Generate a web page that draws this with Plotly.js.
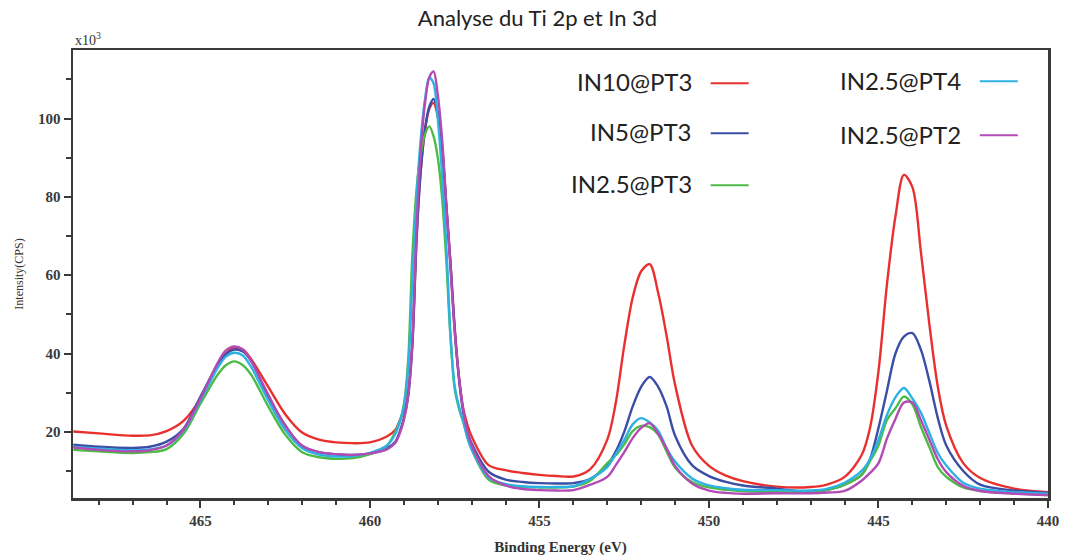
<!DOCTYPE html>
<html>
<head>
<meta charset="utf-8">
<script src="https://cdn.plot.ly/plotly-3.0.1.min.js"></script>
<style>
  html, body { margin: 0; padding: 0; background: #ffffff; }
  #chart { width: 1075px; height: 558px; }
</style>
</head>
<body>
<div id="chart"></div>
<script>
// Binding energy grid (eV)
const energy = [468.75, 468, 467, 466.5, 466, 465.5, 465, 464.5, 464.25, 464, 463.75, 463.5, 463, 462.5, 462, 461.5, 461, 460.5, 460, 459.5,
  459.25, 459.125, 459, 458.875, 458.75, 458.625, 458.5, 458.375, 458.25, 458.125, 458, 457.875, 457.75, 457.625, 457.5, 457.375, 457.25, 457.125, 457,
  456.5, 456, 455.5, 455, 454.5, 454, 453.5, 453, 452.75, 452.5, 452.25, 452, 451.75, 451.5, 451.25, 451, 450.5, 450, 449.5, 449, 448, 447, 446.5, 446,
  445.5, 445.25, 445, 444.75, 444.5, 444.25, 444, 443.75, 443.5, 443.25, 443, 442.5, 442, 441, 440];

// Intensities (x10^3 CPS)
const in10_pt3 = [20.1, 19.6, 19.0, 19.1, 20.2, 22.8, 28.5, 37.0, 40.0, 41.4, 41.0, 38.5, 31.5, 24.5, 19.8, 18.0, 17.3, 17.1, 17.3, 18.8,
  20.5, 22.8, 25.5, 30.5, 43, 70, 87, 97, 102.5, 104, 100.5, 92.5, 77.5, 63, 46.5, 34, 26, 21.8, 18.8,
  11.5, 10.2, 9.5, 9.0, 8.7, 8.6, 10.5, 18, 27.4, 42, 54.3, 61, 62.8, 55.5, 44.5, 32, 16.5, 11.3, 8.8, 7.4, 6.0, 5.9, 6.6, 8.5,
  14, 21, 35.5, 57.7, 75, 85.6, 82.5, 66, 47.5, 31.5, 21.5, 12, 8.2, 5.5, 4.6];

const in5_pt3 = [16.7, 16.2, 15.9, 16.2, 17.5, 20.8, 29, 37, 39.8, 41, 40.5, 38, 29, 21.7, 16.3, 14.8, 14.2, 14.1, 14.4, 15.8,
  17.5, 20, 23.5, 29, 42, 69, 87, 97.5, 103, 105, 101.5, 93, 78, 63, 46, 33.5, 25, 20, 17,
  9.8, 7.8, 7.2, 6.9, 6.8, 6.9, 8.0, 11.5, 15, 20, 26.5, 31.5, 34, 31.5, 26.5, 19, 11.5, 8.7, 7.2, 6.3, 5.5, 4.6, 5.2, 6.5,
  9, 13, 21, 30.5, 40, 44.3, 45.2, 41, 33, 23.5, 16.5, 10, 6.5, 5.0, 4.4];

const in25_pt3 = [15.4, 15.0, 14.6, 14.8, 15.6, 19.5, 27.2, 34.5, 37.0, 38.0, 37.0, 34.5, 26.5, 19.3, 14.8, 13.5, 13.1, 13.3, 14.3, 16.5,
  20, 22.5, 27, 38, 65, 82, 91, 96, 98, 95.5, 90, 80, 64, 44, 31, 26, 22.5, 18.9, 15.5,
  7.8, 6.3, 5.9, 5.8, 5.8, 6.0, 7.5, 12, 14, 16.8, 20.2, 21.5, 21.2, 19.3, 15, 10.9, 7.2, 5.8, 5.2, 4.9, 4.6, 4.6, 5.2, 6.5,
  9, 12.5, 16.5, 23, 26, 29, 27, 21.3, 16.1, 11, 8.5, 5.8, 4.9, 4.3, 4.0];

const in25_pt4 = [16.2, 15.7, 15.3, 15.5, 16.5, 20.3, 28, 36.2, 39.2, 40.2, 39.5, 36.5, 28, 20.5, 15.8, 14.2, 13.7, 13.8, 14.6, 16.5,
  19.5, 22.5, 26.5, 36, 58, 80, 95, 105, 110.5, 109, 100, 86, 68, 45, 31.5, 26.5, 22.8, 18.3, 15.5,
  8.3, 6.7, 6.1, 5.9, 5.9, 6.1, 8.0, 11, 14.3, 17.9, 21.9, 23.5, 22.4, 20.3, 15.8, 12.4, 8.1, 6.3, 5.6, 5.2, 5.1, 5.0, 5.5, 7.0,
  10, 13, 18, 24.3, 28.8, 31.2, 28.5, 24.9, 19.7, 14.6, 11.4, 7.0, 5.5, 4.6, 4.2];

const in25_pt2 = [16.0, 15.4, 15.0, 15.3, 16.5, 20.5, 28.5, 37.5, 40.8, 41.8, 41.0, 38.0, 29.5, 21.5, 16.5, 14.8, 14.3, 14.1, 14.5, 15.5,
  17.2, 19.5, 23, 29, 43, 72, 92, 104, 110.5, 112, 106, 95, 78.5, 62, 45.5, 34, 25.5, 20, 16.5,
  8.7, 6.3, 5.4, 5.1, 5.0, 5.1, 6.5, 8.5, 11.5, 14.8, 18.4, 21, 22.2, 19.5, 15.7, 11.3, 6.8, 5.0, 4.4, 4.2, 4.3, 4.3, 4.5, 4.9,
  7.5, 9.5, 12, 18.3, 23.3, 27.5, 27.5, 23, 18, 13, 9.7, 6.2, 4.9, 4.2, 3.8];

const seriesNames = ["IN10@PT3", "IN5@PT3", "IN2.5@PT3", "IN2.5@PT4", "IN2.5@PT2"];
const seriesValues = [in10_pt3, in5_pt3, in25_pt3, in25_pt4, in25_pt2];
const seriesColors = ["#e8312f", "#3b4ea6", "#4dbb46", "#2db2e3", "#b24bb4"];

const traces = seriesNames.map((name, i) => ({
  type: "scatter",
  mode: "lines",
  name: name,
  x: energy,
  y: seriesValues[i],
  line: { color: seriesColors[i], width: 2.4, shape: "spline", smoothing: 0.9 },
  showlegend: false,
  hoverinfo: "x+y+name"
}));

// Manual legend: text then line sample (as in the reference)
const legendPos = [
  { tx: 0.637, ty: 0.929, lx0: 0.654, lx1: 0.693 },
  { tx: 0.637, ty: 0.817, lx0: 0.654, lx1: 0.693 },
  { tx: 0.637, ty: 0.701, lx0: 0.654, lx1: 0.693 },
  { tx: 0.913, ty: 0.933, lx0: 0.930, lx1: 0.969 },
  { tx: 0.913, ty: 0.8125, lx0: 0.930, lx1: 0.969 }
];
const annotations = seriesNames.map((name, i) => ({
  xref: "paper", yref: "paper", x: legendPos[i].tx, y: legendPos[i].ty,
  xanchor: "right", yanchor: "middle", showarrow: false, text: name,
  font: { family: "Lato, 'Open Sans', sans-serif", size: 24, color: "#222222" }
}));
const shapes = seriesNames.map((name, i) => ({
  type: "line", xref: "paper", yref: "paper",
  x0: legendPos[i].lx0, x1: legendPos[i].lx1, y0: legendPos[i].ty - 0.003, y1: legendPos[i].ty - 0.003,
  line: { color: seriesColors[i], width: 2 }
}));

annotations.push({
  xref: "paper", yref: "paper", x: 0.0, y: 1.0, xanchor: "left", yanchor: "bottom",
  showarrow: false, text: "x10<sup>3</sup>",
  font: { family: "'Liberation Serif', serif", size: 14, color: "#333333" }
});

const tickFont = { family: "'Liberation Serif', 'DejaVu Serif', serif", size: 15, color: "#3a3a3a", weight: "bold" };

const layout = {
  width: 1075, height: 558,
  margin: { l: 73, r: 27, t: 50, b: 60 },
  paper_bgcolor: "#ffffff", plot_bgcolor: "#ffffff",
  title: {
    text: "Analyse du Ti 2p et In 3d",
    x: 0.5, xref: "container", xanchor: "center",
    y: 0.967, yref: "container", yanchor: "middle",
    font: { family: "Lato, 'Open Sans', sans-serif", size: 22, color: "#222222" }
  },
  xaxis: {
    range: [468.76, 440],
    tick0: 440, dtick: 5,
    ticks: "outside", ticklen: 7, tickwidth: 2, tickcolor: "#3a3a3a",
    minor: { tick0: 440, dtick: 1, ticks: "outside", ticklen: 4, tickwidth: 2, tickcolor: "#3a3a3a" },
    showline: true, linecolor: "#3a3a3a", linewidth: 2.5, mirror: true,
    showgrid: false, zeroline: false,
    tickfont: tickFont,
    title: { text: "Binding Energy (eV)", standoff: 14,
      font: { family: "'Liberation Serif', 'DejaVu Serif', serif", size: 15, color: "#333333", weight: "bold" } }
  },
  yaxis: {
    range: [3.1, 117.5],
    tick0: 0, dtick: 20,
    ticks: "outside", ticklen: 7, tickwidth: 2, tickcolor: "#3a3a3a",
    minor: { tick0: 0, dtick: 10, ticks: "outside", ticklen: 5, tickwidth: 2, tickcolor: "#3a3a3a" },
    showline: true, linecolor: "#3a3a3a", linewidth: 2.5, mirror: true,
    showgrid: false, zeroline: false,
    tickfont: tickFont,
    title: { text: "Intensity(CPS)", standoff: 12,
      font: { family: "'Liberation Serif', 'DejaVu Serif', serif", size: 12, color: "#333333" } }
  },
  annotations: annotations,
  shapes: shapes,
  showlegend: false
};

Plotly.newPlot("chart", traces, layout, { displayModeBar: false, staticPlot: true });
</script>
</body>
</html>
